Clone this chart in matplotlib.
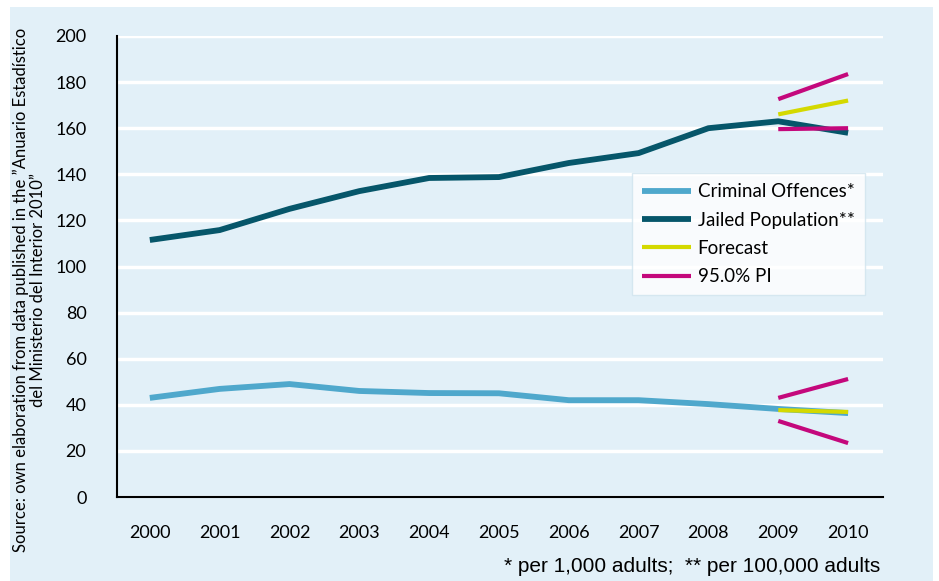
import matplotlib
matplotlib.use("Agg")
import matplotlib.pyplot as plt
from matplotlib.patches import Rectangle

years = ["2000", "2001", "2002", "2003", "2004", "2005", "2006", "2007", "2008", "2009", "2010"]
criminal = [43.0, 46.9, 49.0, 46.0, 45.1, 45.0, 42.0, 42.0, 40.3, 38.2, 36.4]
jailed = [111.5, 115.8, 125.0, 132.7, 138.4, 138.8, 144.9, 149.2, 160.0, 163.0, 158.0]

fc_years = ["2009", "2010"]
jailed_fc = [166.0, 172.0]
jailed_hi = [172.6, 183.5]
jailed_lo = [159.6, 160.0]
crim_fc = [37.7, 36.9]
crim_hi = [43.0, 51.2]
crim_lo = [33.0, 23.4]

yticks = [0, 20, 40, 60, 80, 100, 120, 140, 160, 180, 200]

BG = "#e2f0f8"
C_CRIM = "#4fa8cc"
C_JAIL = "#06566a"
C_FC = "#d4d900"
C_PI = "#c4087c"

plt.rcParams['font.family'] = ['Lato', 'DejaVu Sans']

fig = plt.figure(figsize=(9.39, 5.81), dpi=100, facecolor="white")
fig.patches.append(Rectangle((10/939, 0), (933-10)/939, 1 - 7/581,
                             transform=fig.transFigure, facecolor=BG, edgecolor="none", zorder=-10))
ax = fig.add_axes([117/939, 1 - 497/581, (883-117)/939, (497-36)/581])
ax.set_facecolor(BG)

x = list(range(len(years)))
xf = [years.index(y) for y in fc_years]

ax.plot(x, criminal, color=C_CRIM, lw=4.2, solid_capstyle="butt", label="Criminal Offences*", zorder=3)
ax.plot(x, jailed, color=C_JAIL, lw=4.2, solid_capstyle="butt", label="Jailed Population**", zorder=3)
ax.plot(xf, jailed_fc, color=C_FC, lw=3, solid_capstyle="butt", label="Forecast", zorder=4)
ax.plot(xf, crim_fc, color=C_FC, lw=3, solid_capstyle="butt", zorder=4)
ax.plot(xf, jailed_hi, color=C_PI, lw=3, solid_capstyle="butt", label="95.0% PI", zorder=4)
ax.plot(xf, jailed_lo, color=C_PI, lw=3, solid_capstyle="butt", zorder=4)
ax.plot(xf, crim_hi, color=C_PI, lw=3, solid_capstyle="butt", zorder=4)
ax.plot(xf, crim_lo, color=C_PI, lw=3, solid_capstyle="butt", zorder=4)

ax.set_xlim(-0.47, 10.5)
ax.set_ylim(0, 200)
ax.set_xticks(x)
ax.set_xticklabels(years)
ax.set_yticks(yticks)
ax.tick_params(axis="both", length=0, labelsize=13)
ax.tick_params(axis="x", pad=20)
ax.tick_params(axis="y", pad=22)
ax.grid(axis="y", color="white", lw=2.5, zorder=0)
ax.set_axisbelow(True)
for s in ["top", "right"]:
    ax.spines[s].set_visible(False)
for s in ["left", "bottom"]:
    ax.spines[s].set_color("black")
    ax.spines[s].set_linewidth(1.5)

leg = ax.legend(loc="upper left", bbox_to_anchor=((632-117)/766, 1 - (173-36)/461),
                fontsize=13.5, frameon=True, fancybox=False, handlelength=2.6,
                borderpad=0.55, labelspacing=0.6, handletextpad=0.35, borderaxespad=0)
leg.get_frame().set_facecolor("white")
leg.get_frame().set_edgecolor("#d0e4ee")
leg.get_frame().set_linewidth(1)

fig.text(29/939, 1 - 290/581, "Source: own elaboration from data published in the \u201dAnuario Estad\u00edstico\ndel Ministerio del Interior 2010\u201d",
         rotation=90, ha="center", va="center", fontsize=12, linespacing=1.1)
fig.text(880/939, 1 - 567/581, "* per 1,000 adults;  ** per 100,000 adults",
         ha="right", va="center", fontsize=15, family=["Liberation Sans", "DejaVu Sans"])

fig.savefig("out.png", dpi=100, facecolor="white")
